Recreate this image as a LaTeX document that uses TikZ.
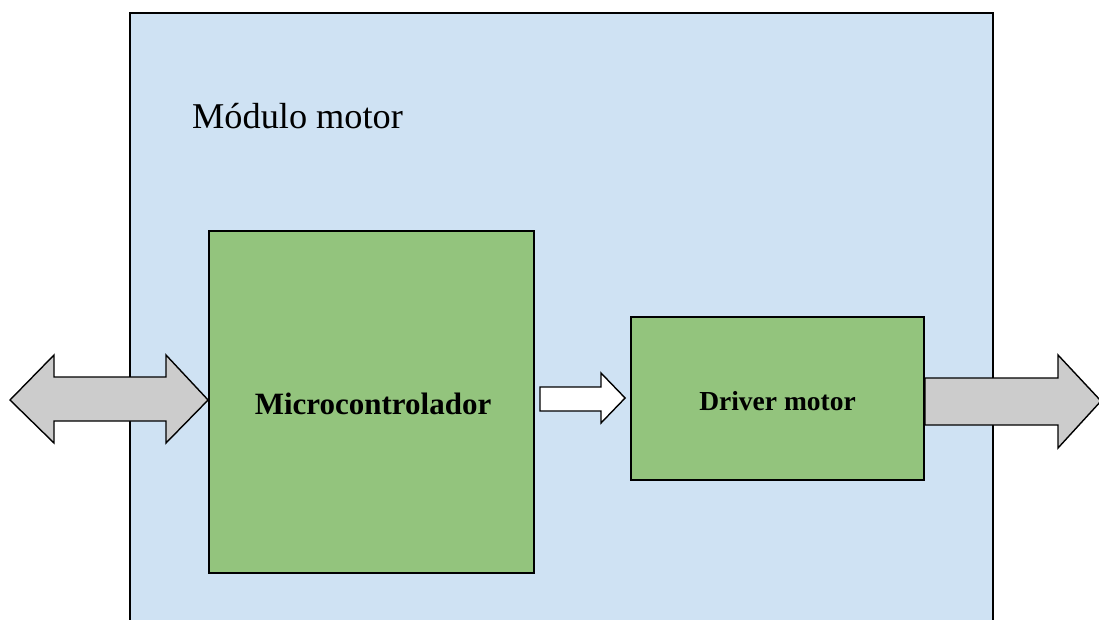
\documentclass[tikz,border=0pt]{standalone}
\usepackage{fontspec}
\setmainfont{Liberation Serif}
\usetikzlibrary{calc}
\definecolor{modblue}{HTML}{CFE2F3}
\definecolor{boxgreen}{HTML}{93C47D}
\definecolor{arrgray}{HTML}{CCCCCC}
\tikzset{
  blockbox/.style={draw=black, line width=1.8pt, fill=boxgreen, inner sep=0pt, font=\bfseries},
  blockarrow/.style={draw=black, line width=1.4pt, line join=miter},
}
\begin{document}
\begin{tikzpicture}[x=1pt,y=-1pt]
\useasboundingbox (0,0) rectangle (1099,619);
\begin{scope}
\clip (0,0) rectangle (1099,619);
\draw[line width=1.8pt, fill=modblue] (130,13) rectangle (993,640);
\end{scope}
\node[anchor=base west, font=\fontsize{36.3}{40}\selectfont, inner sep=0pt] (title) at (192,128) {Módulo motor};
\node[blockbox, minimum width=325pt, minimum height=342pt] (mc) at (371.5,402) {};
\node[font=\bfseries\fontsize{31}{34}\selectfont, inner sep=0pt] (mctext) at (373,404) {Microcontrolador};
\node[blockbox, minimum width=293pt, minimum height=163pt] (drv) at (777.5,398.5) {};
\node[font=\bfseries\fontsize{27.5}{30}\selectfont, inner sep=0pt] (drvtext) at (777.5,401) {Driver motor};
% left double arrow
\draw[blockarrow, fill=arrgray] (10,400) -- (54,355) -- (54,377) -- (166,377) -- (166,355) -- (mc.west |- 0,400) -- (166,443) -- (166,421) -- (54,421) -- (54,443) -- cycle;
% middle arrow
\coordinate (midtip) at ($(drv.west |- 0,398)+(-5,0)$);
\draw[blockarrow, fill=white] (540,387) -- (601,387) -- (601,373) -- (midtip) -- (601,423) -- (601,411) -- (540,411) -- cycle;
% right arrow
\draw[blockarrow, fill=arrgray] (drv.east |- 0,378) -- (1058,378) -- (1058,355) -- (1101,401) -- (1058,448) -- (1058,425) -- (drv.east |- 0,425) -- cycle;
\end{tikzpicture}
\end{document}
